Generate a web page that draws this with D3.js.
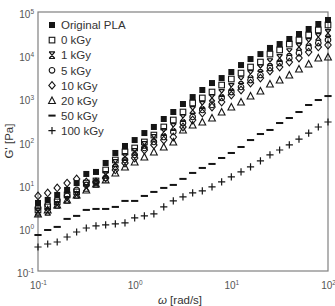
<!DOCTYPE html>
<html>
<head>
<meta charset="utf-8">
<script src="https://cdn.jsdelivr.net/npm/d3@7"></script>
<style>
  body { margin: 0; background: #fff; }
  svg { display: block; font-family: "Liberation Sans", Arial, sans-serif; }
</style>
</head>
<body>
<svg id="chart" width="335" height="306"></svg>
<script>
// angular frequency [rad/s]
const omega = [0.1, 0.126, 0.158, 0.2, 0.251, 0.316, 0.398, 0.501, 0.631, 0.794,
   1, 1.26, 1.58, 2, 2.51, 3.16, 3.98, 5.01, 6.31, 7.94,
   10, 12.6, 15.8, 20, 25.1, 31.6, 39.8, 50.1, 63.1, 79.4, 100];

// storage modulus G' [Pa]
const gOriginal = [3.77, 4.43, 5.78, 7.55, 10.9, 17.7, 19.7, 31.8, 54.2, 78.7,
   108, 157, 217, 332, 482, 739, 1070, 1560, 2260, 2950,
   4070, 5900, 8130, 10600, 14700, 18100, 23700, 30900, 40400, 52700, 65300];
const g0kGy = [2.60, 3.05, 3.98, 5.78, 6.79, 10.9, 12.2, 21.9, 37.3, 57.2,
   70.8, 97.5, 141, 217, 315, 482, 780, 1020, 1400, 2030,
   2800, 3850, 5310, 6930, 10600, 13200, 18100, 22500, 29300, 38300, 50000];
const g1kGy = [2.34, 2.34, 3.39, 4.43, 5.78, 8.40, 10.4, 16.8, 31.8, 43.8,
   57.2, 83.2, 121, 166, 217, 350, 537, 701, 1020, 1330,
   1830, 2650, 3660, 5030, 6930, 8590, 11800, 15500, 20200, 26400, 32600];
const g5kGy = [2.89, 3.39, 4.43, 5.48, 7.55, 9.86, 11.6, 14.3, 25.7, 37.3,
   48.8, 70.8, 97.5, 127, 166, 268, 370, 537, 701, 1020,
   1400, 1830, 2650, 3470, 5030, 6570, 8590, 11200, 14700, 19100, 22500];
const g10kGy = [5.48, 6.43, 8.40, 10.9, 13.6, 11.6, 11.6, 14.3, 21.9, 31.8,
   41.5, 63.6, 83.2, 108, 127, 217, 315, 457, 630, 822,
   1190, 1560, 2260, 2950, 4290, 5310, 6930, 8590, 11800, 15500, 17200];
const g20kGy = [2.10, 2.60, 3.39, 4.43, 5.78, 7.55, 10.4, 12.9, 18.7, 25.7,
   33.6, 43.8, 57.2, 74.6, 97.5, 185, 241, 283, 350, 482,
   630, 822, 1130, 1480, 2140, 2650, 3470, 4770, 6240, 8590, 9060];
const g50kGy = [0.682, 0.891, 1.05, 1.61, 1.89, 2.60, 2.74, 2.74, 3.05, 4.20,
   4.20, 5.48, 6.79, 8.40, 9.86, 13.6, 18.7, 24.4, 30.2, 41.5,
   54.2, 74.6, 108, 149, 185, 268, 350, 482, 701, 914, 1130];
const g100kGy = [0.360, 0.422, 0.470, 0.613, 0.800, 0.991, 1.11, 1.17, 1.23, 1.30,
   1.70, 1.89, 2.10, 3.05, 4.20, 5.20, 6.43, 7.16, 8.86, 11.6,
   15.1, 19.7, 25.7, 35.4, 48.8, 63.6, 83.2, 114, 157, 217, 283];

const seriesNames = ["Original PLA", "0 kGy", "1 kGy", "5 kGy", "10 kGy", "20 kGy", "50 kGy", "100 kGy"];
const seriesValues = [gOriginal, g0kGy, g1kGy, g5kGy, g10kGy, g20kGy, g50kGy, g100kGy];
const markerTypes = ["fsquare", "square", "xbar", "circle", "diamond", "triangle", "dash", "plus"];

const xTicks = [0.1, 1, 10, 100];
const xTickExp = ["-1", "0", "1", "2"];
const yTicks = [0.1, 1, 10, 100, 1000, 10000, 100000];
const yTickExp = ["-1", "0", "1", "2", "3", "4", "5"];

const svg = d3.select("#chart");
const plotLeft = 38, plotRight = 328, plotTop = 12, plotBottom = 271;

const x = d3.scaleLog().domain([0.1, 100]).range([plotLeft, plotRight]);
const y = d3.scaleLog().domain([0.1, 100000]).range([plotBottom, plotTop]);

const ink = "#151515";
const labelColor = "#555";

// marker drawing
function drawMarker(sel, type) {
   if (type === "fsquare") {
      sel.append("rect").attr("x", -3).attr("y", -3).attr("width", 6).attr("height", 6).attr("fill", ink);
   } else if (type === "square") {
      sel.append("rect").attr("x", -2.8).attr("y", -2.8).attr("width", 5.6).attr("height", 5.6)
         .attr("fill", "none").attr("stroke", ink).attr("stroke-width", 1.1);
   } else if (type === "xbar") {
      sel.append("path").attr("d", "M-3,-3.3H3M-3,3.3H3M-2.8,-3.3L2.8,3.3M2.8,-3.3L-2.8,3.3")
         .attr("fill", "none").attr("stroke", ink).attr("stroke-width", 1.2);
   } else if (type === "circle") {
      sel.append("circle").attr("r", 2.8).attr("fill", "none").attr("stroke", ink).attr("stroke-width", 1.1);
   } else if (type === "diamond") {
      sel.append("path").attr("d", "M0,-3.8L3.2,0L0,3.8L-3.2,0Z")
         .attr("fill", "none").attr("stroke", ink).attr("stroke-width", 1.1);
   } else if (type === "triangle") {
      sel.append("path").attr("d", "M0,-3.6L3.4,3L-3.4,3Z")
         .attr("fill", "none").attr("stroke", ink).attr("stroke-width", 1.1);
   } else if (type === "dash") {
      sel.append("rect").attr("x", -3.6).attr("y", -1).attr("width", 7.2).attr("height", 2).attr("fill", ink);
   } else if (type === "plus") {
      sel.append("path").attr("d", "M-3.6,0H3.6M0,-3.6V3.6")
         .attr("fill", "none").attr("stroke", ink).attr("stroke-width", 1.2);
   }
}

// axes (no tick lines, labels as 10^n)
const yAxis = svg.append("g")
   .attr("transform", `translate(${plotLeft},0)`)
   .call(d3.axisLeft(y).tickValues(yTicks).tickSize(0).tickFormat(""));
yAxis.select(".domain").remove();
yAxis.selectAll(".tick").each(function (d, i) {
   const t = d3.select(this).append("text")
      .attr("x", -4).attr("y", 5.5)
      .attr("text-anchor", "end")
      .attr("fill", labelColor)
      .attr("font-size", 10);
   t.append("tspan").text("10");
   t.append("tspan").attr("dy", -4.5).attr("font-size", 6.5).text(yTickExp[i]);
});

const xAxis = svg.append("g")
   .attr("transform", `translate(0,${plotBottom})`)
   .call(d3.axisBottom(x).tickValues(xTicks).tickSize(0).tickFormat(""));
xAxis.select(".domain").remove();
xAxis.selectAll(".tick").each(function (d, i) {
   const t = d3.select(this).append("text")
      .attr("x", 0).attr("y", 18)
      .attr("text-anchor", "middle")
      .attr("fill", labelColor)
      .attr("font-size", 10);
   t.append("tspan").text("10");
   t.append("tspan").attr("dy", -4.5).attr("font-size", 6.5).text(xTickExp[i]);
});

// frame
svg.append("rect")
   .attr("x", plotLeft).attr("y", plotTop)
   .attr("width", plotRight - plotLeft).attr("height", plotBottom - plotTop)
   .attr("fill", "none").attr("stroke", "#808080").attr("stroke-width", 1.2);

// axis titles
svg.append("text")
   .attr("x", 180).attr("y", 304)
   .attr("text-anchor", "middle")
   .attr("fill", "#333")
   .attr("font-size", 11.5)
   .html('<tspan font-style="italic">ω</tspan> [rad/s]');

svg.append("text")
   .attr("transform", "translate(13,141) rotate(-90)")
   .attr("text-anchor", "middle")
   .attr("fill", "#333")
   .attr("font-size", 11.5)
   .text("G' [Pa]");

// data markers
seriesValues.forEach((vals, s) => {
   svg.append("g")
      .selectAll("g")
      .data(vals.map((v, i) => ({ w: omega[i], g: v })))
      .join("g")
      .attr("transform", d => `translate(${x(d.w)},${y(d.g)})`)
      .each(function () { drawMarker(d3.select(this), markerTypes[s]); });
});

// legend
const legend = svg.append("g").attr("transform", "translate(52,25)");
seriesNames.forEach((name, i) => {
   const row = legend.append("g").attr("transform", `translate(0,${i * 15.1})`);
   drawMarker(row.append("g"), markerTypes[i]);
   row.append("text")
      .attr("x", 9).attr("y", 4.2)
      .attr("fill", "#333")
      .attr("font-size", 11.5)
      .text(name);
});
</script>
</body>
</html>
